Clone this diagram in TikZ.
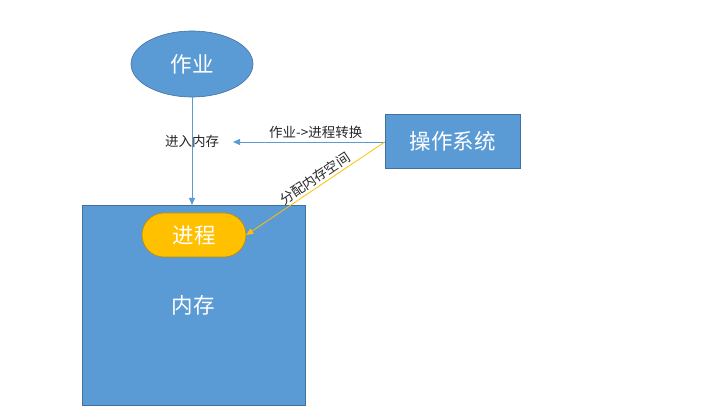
\documentclass[tikz,border=0pt]{standalone}
\usepackage{fontspec}
\setmainfont{Noto Sans CJK SC}
\usetikzlibrary{shapes.geometric,arrows.meta}
\definecolor{fblue}{HTML}{5B9BD5}
\definecolor{dblue}{HTML}{41719C}
\definecolor{fyel}{HTML}{FFC000}
\definecolor{dyel}{HTML}{BC8C00}
\tikzset{
  bigtext/.style={text=white,font=\fontsize{21.5}{24}\selectfont},
  bluebox/.style={draw=dblue,fill=fblue,line width=0.6pt,bigtext},
  lbl/.style={font=\fontsize{13.5}{15}\selectfont,text=black!85,inner sep=1pt},
  barrow/.style={draw=fblue,line width=0.8pt,-{Triangle[length=7pt,width=6pt]}},
  yarrow/.style={draw=fyel,line width=0.8pt,-{Triangle[length=7pt,width=6pt]}}
}
\begin{document}
\begin{tikzpicture}[x=1pt,y=-1pt]
\useasboundingbox (0,0) rectangle (702,419);
\node[bluebox,ellipse,minimum width=122pt,minimum height=66pt,inner sep=0pt] (job) at (192,64) {作业};
\node[bluebox,rectangle,minimum width=223pt,minimum height=200pt,inner sep=0pt] (mem) at (193.5,305) {};
\node[bigtext] (memt) at (193,305) {内存};
\node[draw=dyel,fill=fyel,line width=0.6pt,rounded corners=22pt,minimum width=104pt,minimum height=44pt,inner sep=0pt,bigtext] (proc) at (194,235) {进程};
\node[bluebox,rectangle,minimum width=135pt,minimum height=54pt,inner sep=0pt] (os) at (452.5,141) {操作系统};
\coordinate (memtop) at (192,205);
\coordinate (arrl) at (233,142);
\draw[barrow] (job.south) -- (memtop) node[lbl,pos=0.41] {进入内存};
\draw[barrow] (os.west |- 0,142) -- (arrl) node[lbl,pos=0.455,above=2pt] {作业->进程转换};
\draw[yarrow] (os.west |- 0,142) -- (proc.east) node[lbl,pos=0.47,sloped,above=1pt] {分配内存空间};
\end{tikzpicture}
\end{document}
